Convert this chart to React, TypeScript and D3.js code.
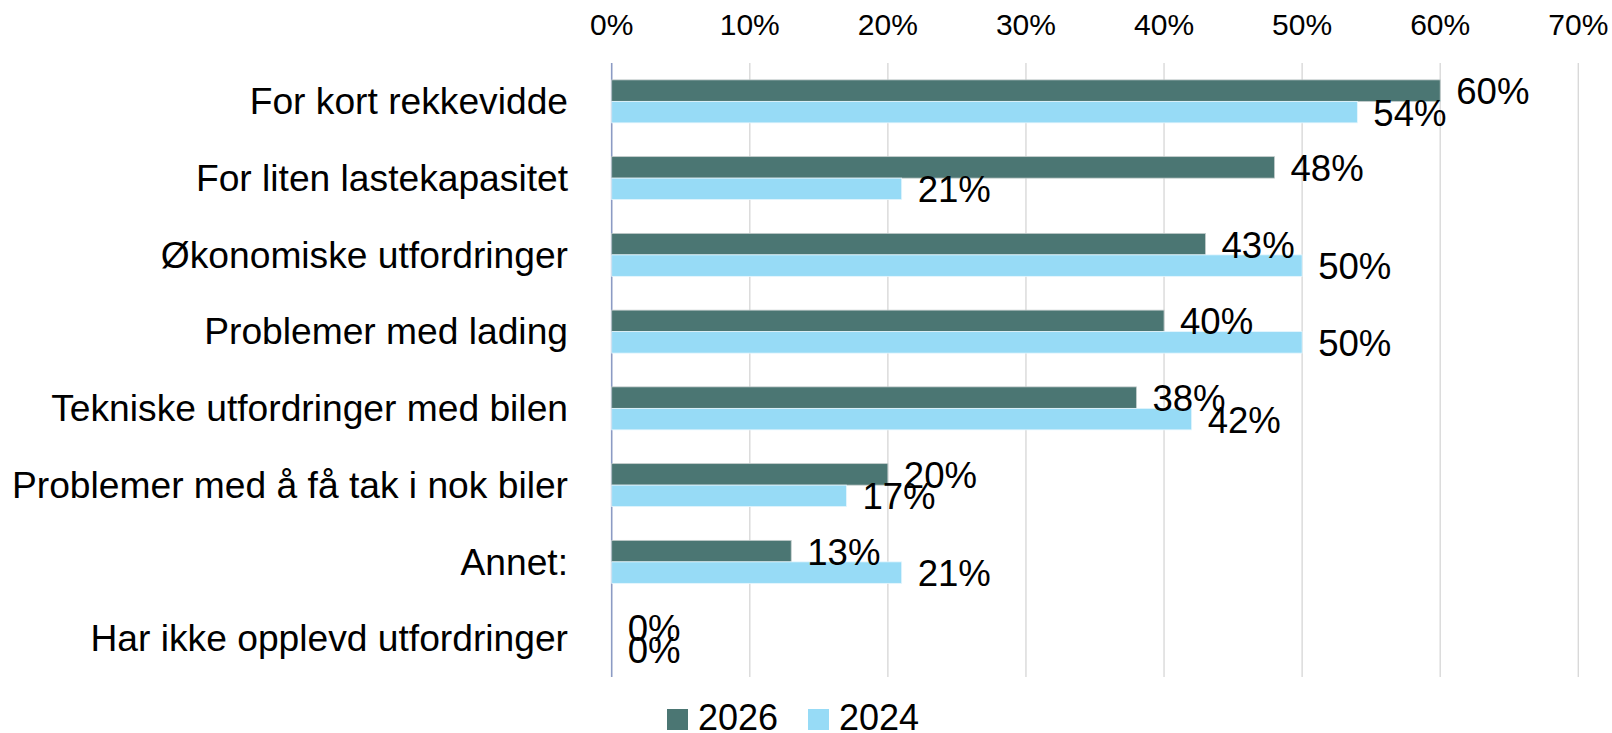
import React from "react";
import * as d3 from "d3";

const categories = [
  "For kort rekkevidde",
  "For liten lastekapasitet",
  "Økonomiske utfordringer",
  "Problemer med lading",
  "Tekniske utfordringer med bilen",
  "Problemer med å få tak i nok biler",
  "Annet:",
  "Har ikke opplevd utfordringer",
];
const series = ["2026", "2024"];
const values2026 = [60, 48, 43, 40, 38, 20, 13, 0];
const values2024 = [54, 21, 50, 50, 42, 17, 21, 0];
const ticks = [0, 10, 20, 30, 40, 50, 60, 70];
const colors = ["#4b7673", "#97dbf6"];

const W = 1612;
const H = 733;
const FONT = "'Liberation Sans', Arial, sans-serif";

export default function App() {
  const x = d3.scaleLinear().domain([0, 70]).range([611.7, 1578.3]);
  const y = d3
    .scaleBand<string>()
    .domain(categories)
    .range([63, 677])
    .paddingInner(0.44)
    .paddingOuter(0.22);
  const ys = d3.scaleBand<string>().domain(series).range([0, y.bandwidth()]);
  const data = [values2026, values2024];

  return (
    <div style={{ position: "fixed", left: 0, top: 0 }}>
      <svg width={W} height={H} style={{ display: "block", background: "#fff" }}>
        {ticks.map((t) => (
          <line
            key={"g" + t}
            x1={x(t)}
            x2={x(t)}
            y1={63}
            y2={677}
            stroke={t === 0 ? "#8c9bc4" : "#d9d9d9"}
            strokeWidth={t === 0 ? 1.6 : 1.4}
          />
        ))}
        {ticks.map((t) => (
          <text
            key={"t" + t}
            x={x(t)}
            y={35}
            textAnchor="middle"
            fontFamily={FONT}
            fontSize={30}
            fill="#000"
          >
            {t + "%"}
          </text>
        ))}
        {categories.map((c) => (
          <text
            key={"c" + c}
            x={568}
            y={(y(c) as number) + y.bandwidth() / 2 + 12.8}
            textAnchor="end"
            fontFamily={FONT}
            fontSize={37.2}
            fill="#000"
          >
            {c}
          </text>
        ))}
        {series.map((s, si) =>
          categories.map((c, ci) => {
            const v = data[si][ci];
            const y0 = (y(c) as number) + (ys(s) as number);
            return (
              <rect
                key={s + c}
                x={x(0)}
                y={y0}
                width={x(v) - x(0)}
                height={ys.bandwidth()}
                fill={colors[si]}
                stroke={v > 0 ? (si === 0 ? "#c3cccc" : "#e6f6fd") : "none"}
                strokeWidth={0.8}
              />
            );
          })
        )}
        {series.map((s, si) =>
          categories.map((c, ci) => {
            const v = data[si][ci];
            const cy = (y(c) as number) + (ys(s) as number) + ys.bandwidth() / 2;
            return (
              <text
                key={"l" + s + c}
                x={x(v) + 16}
                y={cy + 13.4}
                fontFamily={FONT}
                fontSize={36.6}
                fill="#000"
              >
                {v + "%"}
              </text>
            );
          })
        )}
        {series.map((s, si) => {
          const lx = [667, 808][si];
          return (
            <g key={"lg" + s}>
              <rect x={lx} y={709} width={21} height={21} fill={colors[si]} />
              <text
                x={lx + 31}
                y={730}
                fontFamily={FONT}
                fontSize={36}
                fill="#000"
              >
                {s}
              </text>
            </g>
          );
        })}
      </svg>
    </div>
  );
}
